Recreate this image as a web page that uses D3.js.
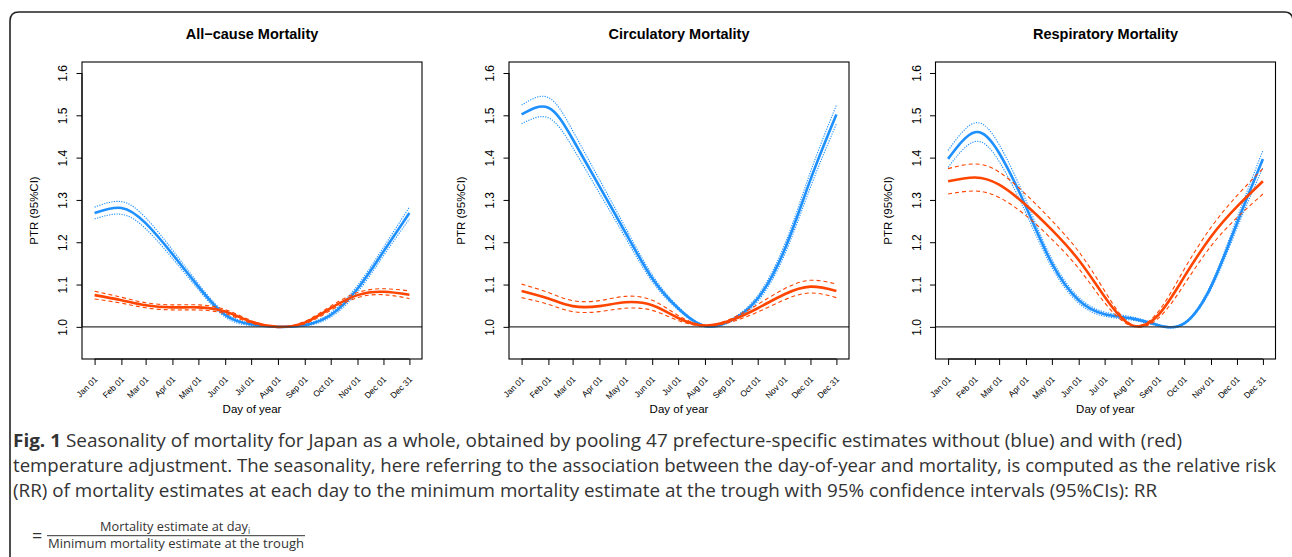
<!DOCTYPE html>
<html>
<head>
<meta charset="utf-8">
<script src="https://cdn.jsdelivr.net/npm/d3@7"></script>
<style>
  html, body { margin: 0; padding: 0; background: #fff; }
  svg { display: block; }
</style>
</head>
<body>
<svg id="chart" width="1292" height="557"></svg>
<script>
// ---------------- DATA ----------------
const days = [1, 32, 60, 91, 121, 152, 182, 213, 244, 274, 305, 335, 365];
const tickLabels = ["Jan 01","Feb 01","Mar 01","Apr 01","May 01","Jun 01","Jul 01","Aug 01","Sep 01","Oct 01","Nov 01","Dec 01","Dec 31"];
const yTicks = [1.0, 1.1, 1.2, 1.3, 1.4, 1.5, 1.6];
const titles = ["All\u2212cause Mortality", "Circulatory Mortality", "Respiratory Mortality"];

// All-cause
const allBlue   = [1.269,1.281,1.245,1.172,1.095,1.028,1.006,1.000,1.004,1.028,1.090,1.178,1.269];
const allBlueLo = [1.255,1.266,1.232,1.162,1.088,1.023,1.003,1.000,1.002,1.023,1.082,1.168,1.255];
const allBlueHi = [1.283,1.296,1.258,1.182,1.102,1.033,1.009,1.000,1.006,1.033,1.098,1.188,1.283];
const allRed    = [1.075,1.063,1.051,1.046,1.046,1.036,1.012,1.000,1.010,1.044,1.075,1.083,1.076];
const allRedLo  = [1.066,1.056,1.045,1.040,1.040,1.031,1.009,1.000,1.007,1.039,1.069,1.076,1.067];
const allRedHi  = [1.084,1.070,1.057,1.052,1.052,1.041,1.015,1.000,1.013,1.049,1.081,1.090,1.085];

// Circulatory
const circBlue   = [1.502,1.518,1.444,1.332,1.223,1.115,1.044,1.002,1.016,1.067,1.182,1.348,1.502];
const circBlueLo = [1.480,1.494,1.424,1.316,1.211,1.107,1.040,1.000,1.013,1.060,1.170,1.330,1.480];
const circBlueHi = [1.524,1.542,1.464,1.348,1.235,1.123,1.048,1.004,1.019,1.074,1.194,1.366,1.524];
const circRed    = [1.085,1.067,1.049,1.049,1.058,1.051,1.021,1.003,1.016,1.044,1.077,1.095,1.085];
const circRedLo  = [1.069,1.053,1.036,1.036,1.044,1.039,1.015,1.002,1.012,1.035,1.064,1.080,1.069];
const circRedHi  = [1.101,1.081,1.062,1.062,1.072,1.063,1.027,1.004,1.020,1.053,1.090,1.110,1.101];

// Respiratory
const respBlue   = [1.397,1.460,1.411,1.284,1.150,1.063,1.030,1.020,1.004,1.008,1.095,1.245,1.397];
const respBlueLo = [1.377,1.438,1.391,1.269,1.140,1.056,1.025,1.016,1.002,1.006,1.089,1.233,1.377];
const respBlueHi = [1.417,1.482,1.431,1.299,1.160,1.070,1.035,1.024,1.006,1.010,1.101,1.257,1.417];
const respRed    = [1.344,1.353,1.336,1.288,1.229,1.158,1.071,1.004,1.028,1.118,1.213,1.284,1.344];
const respRedLo  = [1.314,1.321,1.306,1.263,1.207,1.138,1.057,1.002,1.020,1.100,1.191,1.258,1.314];
const respRedHi  = [1.374,1.385,1.366,1.313,1.251,1.178,1.085,1.006,1.036,1.136,1.235,1.310,1.374];

const captionLines = [
  ["Fig. 1", " Seasonality of mortality for Japan as a whole, obtained by pooling 47 prefecture-specific estimates without (blue) and with (red)"],
  ["", "temperature adjustment. The seasonality, here referring to the association between the day-of-year and mortality, is computed as the relative risk"],
  ["", "(RR) of mortality estimates at each day to the minimum mortality estimate at the trough with 95% confidence intervals (95%CIs): RR"]
];

const panels = [
  {title: titles[0], blue: allBlue, blueLo: allBlueLo, blueHi: allBlueHi, red: allRed, redLo: allRedLo, redHi: allRedHi},
  {title: titles[1], blue: circBlue, blueLo: circBlueLo, blueHi: circBlueHi, red: circRed, redLo: circRedLo, redHi: circRedHi},
  {title: titles[2], blue: respBlue, blueLo: respBlueLo, blueHi: respBlueHi, red: respRed, redLo: respRedLo, redHi: respRedHi}
];

// ---------------- LAYOUT ----------------
const svg = d3.select("#chart");
const RFONT = "'Liberation Sans', Arial, Helvetica, sans-serif";
const CFONT = "'Open Sans', 'Noto Sans', sans-serif";
const BLUE = "#1E90FF", RED = "#FF4500";

svg.append("rect").attr("width", 1292).attr("height", 557).attr("fill", "#fff");

// outer frame
svg.append("path")
  .attr("d", "M10,560 L10,21 Q10,12 19,12 L1284,12 Q1293,12 1293,21 L1293,560")
  .attr("fill", "none").attr("stroke", "#222").attr("stroke-width", 1.6);

const panelLefts = [82, 509, 935.5];
const pw = 340, plotTop = 62, plotBottom = 359;

const dayPad = (365 - 1) * 0.04;
const yLo = 0.95, yHi = 1.6, yPad = (yHi - yLo) * 0.04;

panels.forEach((p, i) => {
  const left = panelLefts[i];
  const g = svg.append("g");
  const x = d3.scaleLinear().domain([1 - dayPad, 365 + dayPad]).range([left, left + pw]);
  const y = d3.scaleLinear().domain([yLo - yPad, yHi + yPad]).range([plotBottom, plotTop]);

  // title
  g.append("text").attr("x", left + pw / 2).attr("y", 39)
    .attr("text-anchor", "middle").attr("font-family", RFONT)
    .attr("font-weight", "bold").attr("font-size", 14.5).attr("fill", "#000")
    .text(p.title);

  // y axis
  const ya = g.append("g").attr("transform", `translate(${left},0)`)
    .call(d3.axisLeft(y).tickValues(yTicks).tickSize(5.5).tickFormat(d3.format(".1f")));
  ya.select(".domain").attr("d", `M0,${y(1.0)}V${y(1.6)}`).attr("stroke", "#000");
  ya.selectAll(".tick line").attr("stroke", "#000");
  ya.selectAll(".tick text")
    .attr("font-family", RFONT).attr("font-size", 12).attr("fill", "#000")
    .attr("text-anchor", "middle").attr("x", null).attr("dy", null)
    .attr("transform", "translate(-15,0) rotate(-90)");

  // x axis
  const xa = g.append("g").attr("transform", `translate(0,${plotBottom})`)
    .call(d3.axisBottom(x).tickValues(days).tickSize(6).tickFormat((d, k) => tickLabels[k]));
  xa.select(".domain").attr("d", `M${x(1)},0H${x(365)}`).attr("stroke", "#000");
  xa.selectAll(".tick line").attr("stroke", "#000");
  xa.selectAll(".tick text")
    .attr("font-family", RFONT).attr("font-size", 8.5).attr("fill", "#000")
    .attr("text-anchor", "end").attr("y", null).attr("dy", null)
    .attr("transform", "translate(3,21) rotate(-45)");

  // axis titles
  g.append("text").attr("x", left + pw / 2).attr("y", 412.5)
    .attr("text-anchor", "middle").attr("font-family", RFONT).attr("font-size", 11.5)
    .attr("fill", "#000").text("Day of year");
  g.append("text")
    .attr("transform", `translate(${left - 44},${(plotTop + plotBottom) / 2}) rotate(-90)`)
    .attr("text-anchor", "middle").attr("font-family", RFONT).attr("font-size", 11.5)
    .attr("fill", "#000").text("PTR (95%CI)");

  // clip
  const cid = "clip" + i;
  svg.append("clipPath").attr("id", cid).append("rect")
    .attr("x", left).attr("y", plotTop).attr("width", pw).attr("height", plotBottom - plotTop);
  const pg = g.append("g").attr("clip-path", `url(#${cid})`);

  const line = d3.line().x((d, k) => x(days[k])).y(d => y(d)).curve(d3.curveNatural);

  // blue
  pg.append("path").attr("d", line(p.blueLo)).attr("fill", "none").attr("stroke", BLUE)
    .attr("stroke-width", 1.1).attr("stroke-dasharray", "1.2,1.3");
  pg.append("path").attr("d", line(p.blueHi)).attr("fill", "none").attr("stroke", BLUE)
    .attr("stroke-width", 1.1).attr("stroke-dasharray", "1.2,1.3");
  pg.append("path").attr("d", line(p.blue)).attr("fill", "none").attr("stroke", BLUE)
    .attr("stroke-width", 2.6);
  // red
  pg.append("path").attr("d", line(p.redLo)).attr("fill", "none").attr("stroke", RED)
    .attr("stroke-width", 1.1).attr("stroke-dasharray", "4,3");
  pg.append("path").attr("d", line(p.redHi)).attr("fill", "none").attr("stroke", RED)
    .attr("stroke-width", 1.1).attr("stroke-dasharray", "4,3");
  pg.append("path").attr("d", line(p.red)).attr("fill", "none").attr("stroke", RED)
    .attr("stroke-width", 2.6);

  // reference line at 1.0
  g.append("line").attr("x1", left).attr("x2", left + pw)
    .attr("y1", y(1.0)).attr("y2", y(1.0)).attr("stroke", "#333").attr("stroke-width", 1.3);

  // box
  g.append("rect").attr("x", left).attr("y", plotTop).attr("width", pw).attr("height", plotBottom - plotTop)
    .attr("fill", "none").attr("stroke", "#000").attr("stroke-width", 1.1);
});

// ---------------- CAPTION ----------------
const capLens = [1169, 1263, 1144];
const capY = [446.5, 471.5, 496.5];
captionLines.forEach((ln, k) => {
  const t = svg.append("text").attr("x", 13).attr("y", capY[k])
    .attr("font-family", CFONT).attr("font-size", 17.5).attr("fill", "#333")
    .attr("textLength", capLens[k]).attr("lengthAdjust", "spacingAndGlyphs");
  if (ln[0]) t.append("tspan").attr("font-weight", "bold").text(ln[0]);
  t.append("tspan").text(ln[1]);
});

// formula
svg.append("text").attr("x", 32).attr("y", 541.5).attr("font-family", CFONT)
  .attr("font-size", 18).attr("fill", "#333").text("=");
const num = svg.append("text").attr("x", 100).attr("y", 531).attr("font-family", CFONT)
  .attr("font-size", 12.5).attr("fill", "#333");
num.append("tspan").attr("textLength", 148).attr("lengthAdjust", "spacingAndGlyphs").text("Mortality estimate at day");
num.append("tspan").attr("font-size", 8.5).attr("dy", 3).text("i");
svg.append("line").attr("x1", 47).attr("x2", 305).attr("y1", 535.7).attr("y2", 535.7)
  .attr("stroke", "#333").attr("stroke-width", 1);
svg.append("text").attr("x", 48).attr("y", 547.8).attr("font-family", CFONT)
  .attr("font-size", 12.5).attr("fill", "#333")
  .attr("textLength", 256).attr("lengthAdjust", "spacingAndGlyphs")
  .text("Minimum mortality estimate at the trough");
</script>
</body>
</html>
